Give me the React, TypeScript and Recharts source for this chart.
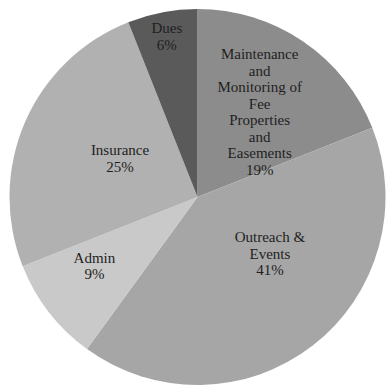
import { PieChart, Pie, Cell } from "recharts";

const categories = [
  "Maintenance\nand\nMonitoring of\nFee\nProperties\nand\nEasements",
  "Outreach &\nEvents",
  "Admin",
  "Insurance",
  "Dues",
];
const shares = [19, 41, 9, 25, 6];
const colors = ["#8c8c8c", "#a6a6a6", "#c9c9c9", "#b1b1b1", "#5a5a5a"];

const data = categories.map((name, i) => ({ name, value: shares[i] }));

// label placement tweaks (fraction of radius, angle nudge in degrees)
const labelPos = [
  { r: 0.56, da: -2 },
  { r: 0.49, da: 14 },
  { r: 0.66, da: -4 },
  { r: 0.46, da: -3 },
  { r: 0.87, da: 0 },
];

const RAD = Math.PI / 180;

function renderLabel(props: any) {
  const { cx, cy, midAngle, outerRadius, index, name, value } = props;
  const p = labelPos[index];
  const a = (midAngle + p.da) * RAD;
  const r = outerRadius * p.r;
  const x = cx + r * Math.cos(a);
  const y = cy - r * Math.sin(a);
  const lines = [...String(name).split("\n"), `${value}%`];
  const lh = 16.5;
  const top = y - ((lines.length - 1) * lh) / 2;
  return (
    <text
      key={`l-${index}`}
      x={x}
      y={top}
      textAnchor="middle"
      dominantBaseline="central"
      fill="#1f1f1f"
      fontSize={15}
      fontFamily="'Liberation Serif', serif"
    >
      {lines.map((t, i) => (
        <tspan key={i} x={x} y={top + i * lh}>
          {t}
        </tspan>
      ))}
    </text>
  );
}

export default function App() {
  return (
    <div style={{ position: "absolute", left: 0, top: 0, width: 387, height: 390, background: "#fff" }}>
      <PieChart width={387} height={390} margin={{ top: 0, right: 0, bottom: 0, left: 0 }}>
        <Pie
          data={data}
          dataKey="value"
          nameKey="name"
          cx={197.5}
          cy={197}
          outerRadius={188}
          startAngle={90}
          endAngle={-270}
          stroke="none"
          labelLine={false}
          label={renderLabel}
          isAnimationActive={false}
        >
          {data.map((d, i) => (
            <Cell key={d.name} fill={colors[i]} />
          ))}
        </Pie>
      </PieChart>
    </div>
  );
}
